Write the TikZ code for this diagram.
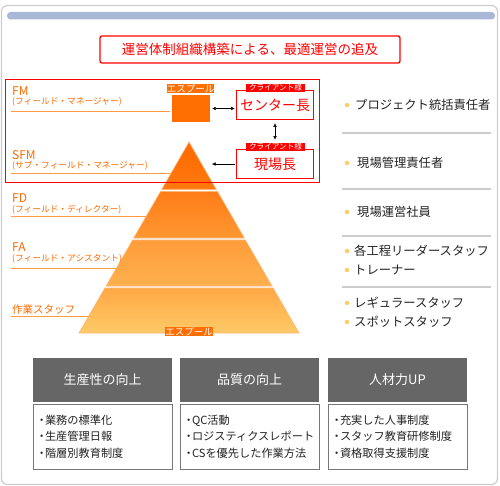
\documentclass[tikz,border=0pt]{standalone}
\usepackage{fontspec}
\setmainfont{Noto Sans CJK JP}
\usetikzlibrary{arrows.meta}
\definecolor{framegray}{HTML}{CCCCCC}
\definecolor{barblue}{HTML}{AAB8D8}
\definecolor{fmorange}{HTML}{FF6A00}
\definecolor{lineorange}{HTML}{FF9A45}
\definecolor{esporange}{HTML}{FF6E00}
\definecolor{pyredge}{HTML}{FFB878}
\definecolor{dotyellow}{HTML}{FFCC66}
\definecolor{sepgray}{HTML}{CCCCCC}
\definecolor{textgray}{HTML}{222222}
\definecolor{headgray}{HTML}{666666}
\definecolor{bodygray}{HTML}{777777}
\newcommand{\kdot}{\makebox[6.5pt][c]{・}}
\begin{document}
\begin{tikzpicture}[x = 1pt, y = -1pt, >={Latex[length = 3.5pt, width = 3.5pt]},
  every node/.style = {inner sep = 0pt},
  lbl/.style = {anchor = west, text = fmorange, font = \fontsize{12}{12}\selectfont},
  sublbl/.style = {anchor = west, text = fmorange, font = \fontsize{8.7}{8.7}\selectfont},
  orangeline/.style = {lineorange, line width = 1pt},
  espbox/.style = {fill = esporange, text = white, minimum width = 47pt, minimum height = 9pt, font = \fontsize{9.5}{9.5}\selectfont},
  tagbox/.style = {fill = red, text = white, minimum width = 59pt, minimum height = 8pt, font = \fontsize{7.6}{7.6}\selectfont},
  client/.style = {draw = red, line width = 1.6pt, text = red, minimum width = 77pt, minimum height = 29pt, font = \fontsize{14}{14}\selectfont},
  ydot/.style = {circle, fill = dotyellow, minimum size = 4.5pt},
  itemtext/.style = {anchor = west, text = textgray, font = \fontsize{12.3}{12.3}\selectfont},
  sepline/.style = {sepgray, line width = 1.5pt},
  headbox/.style = {fill = headgray, text = white, minimum width = 139pt, minimum height = 44pt, font = \fontsize{13}{13}\selectfont},
  bodybox/.style = {draw = bodygray, line width = 1pt, minimum width = 139pt, minimum height = 65pt, text width = 128pt, align = left, text = textgray, font = \fontsize{11.2}{16.5}\selectfont}]
\useasboundingbox (0,0) rectangle (500,486);
\draw[framegray, line width = 1.2pt, rounded corners = 6pt] (1.5,5.5) rectangle (497.5,484.5);
\fill[barblue, rounded corners = 3.5pt] (7,12) rectangle (495,19.5);
\node at (250,49.5) (title) [draw = red, line width = 1.3pt, rounded corners = 2pt, minimum width = 300pt, minimum height = 27pt, text = red, font = \fontsize{13.5}{13.5}\selectfont] {運営体制組織構築による、最適運営の追及};

\shade[top color = {rgb,255:red,255;green,104;blue,0}, bottom color = {rgb,255:red,255;green,122;blue,16}, draw = pyredge, line width = 0.6pt] (189,142) -- (216.3,189.5) -- (161.7,189.5) -- cycle;
\shade[top color = {rgb,255:red,255;green,124;blue,24}, bottom color = {rgb,255:red,255;green,152;blue,50}, draw = pyredge, line width = 0.6pt] (160.5,191.5) -- (217.5,191.5) -- (244.3,238) -- (133.7,238) -- cycle;
\shade[top color = {rgb,255:red,255;green,156;blue,58}, bottom color = {rgb,255:red,255;green,176;blue,78}, draw = pyredge, line width = 0.6pt] (132.6,240) -- (245.4,240) -- (271.9,286) -- (106.1,286) -- cycle;
\shade[top color = {rgb,255:red,255;green,168;blue,68}, bottom color = {rgb,255:red,255;green,202;blue,104}, draw = pyredge, line width = 0.6pt] (104.9,288) -- (273.1,288) -- (299,333) -- (79,333) -- cycle;
\node at (189,331.5) (espbottom) [espbox] {エスプール};

\node at (12,91.5) (fm) [lbl] {FM};
\node at (12,102) (fmsub) [sublbl] {(フィールド・マネージャー)};
\draw[orangeline] (11,112) -- (170,112);
\node at (12,155) (sfm) [lbl] {SFM};
\node at (12,165.5) (sfmsub) [sublbl] {(サブ・フィールド・マネージャー)};
\draw[orangeline] (11,174) -- (171,174);
\node at (12,198) (fd) [lbl] {FD};
\node at (12,209.5) (fdsub) [sublbl] {(フィールド・ディレクター)};
\draw[orangeline] (11,217) -- (146,217);
\node at (12,247) (fa) [lbl] {FA};
\node at (12,258.5) (fasub) [sublbl] {(フィールド・アシスタント)};
\draw[orangeline] (11,268) -- (116,268);
\node at (12,309.5) (staff) [lbl, font = \fontsize{10.5}{10.5}\selectfont] {作業スタッフ};
\draw[orangeline] (11,316) -- (89,316);

\draw[red, line width = 1pt] (5,80) rectangle (319,183);
\node at (191,108.5) (esp) [fill = esporange, minimum width = 38pt, minimum height = 27pt] {};
\node at (190.5,88.5) (esplbl) [espbox] {エスプール};
\node at (275,105) (ctr) [client] {センター長};
\node at (275.5,88) (ctrtag) [tagbox] {クライアント様};
\node at (275,164) (gen) [client] {現場長};
\node at (275.5,147) (gentag) [tagbox] {クライアント様};
\coordinate (tip) at (212,164);
\draw[<->, shorten <= 2pt, shorten >= 1pt] (esp.east) -- (esp.east -| ctr.west);
\draw[<->, shorten <= 3pt, shorten >= 9pt] (ctr.south) -- (gen.north);
\draw[->, shorten <= 1pt] (gen.west) -- (tip);

\node at (347,105) (d1) [ydot] {};
\node at (355,105) (i1) [itemtext] {プロジェクト統括責任者};
\draw[sepline] (342,133) -- (491,133);
\node at (347,163) (d2) [ydot] {};
\node at (357,163) (i2) [itemtext] {現場管理責任者};
\draw[sepline] (342,189) -- (491,189);
\node at (347,212) (d3) [ydot] {};
\node at (357,212) (i3) [itemtext] {現場運営社員};
\draw[sepline] (342,236) -- (491,236);
\node at (347,251) (d4) [ydot] {};
\node at (354,251) (i4) [itemtext] {各工程リーダースタッフ};
\node at (347,270) (d5) [ydot] {};
\node at (354,270) (i5) [itemtext] {トレーナー};
\draw[sepline] (342,287) -- (491,287);
\node at (347,303) (d6) [ydot] {};
\node at (354,303) (i6) [itemtext] {レギュラースタッフ};
\node at (347,322) (d7) [ydot] {};
\node at (354,322) (i7) [itemtext] {スポットスタッフ};

\node at (102.5,380) (prod) [headbox] {生産性の向上};
\node at (102.5,436.5) (prodbody) [bodybox] {\kdot 業務の標準化\\\kdot 生産管理日報\\\kdot 階層別教育制度};
\node at (249.5,380) (qual) [headbox] {品質の向上};
\node at (249.5,436.5) (qualbody) [bodybox] {\kdot QC活動\\\kdot ロジスティクスレポート\\\kdot CSを優先した作業方法};
\node at (397.5,380) (hr) [headbox] {人材力UP};
\node at (397.5,436.5) (hrbody) [bodybox] {\kdot 充実した人事制度\\\kdot スタッフ教育研修制度\\\kdot 資格取得支援制度};
\end{tikzpicture}
\end{document}
